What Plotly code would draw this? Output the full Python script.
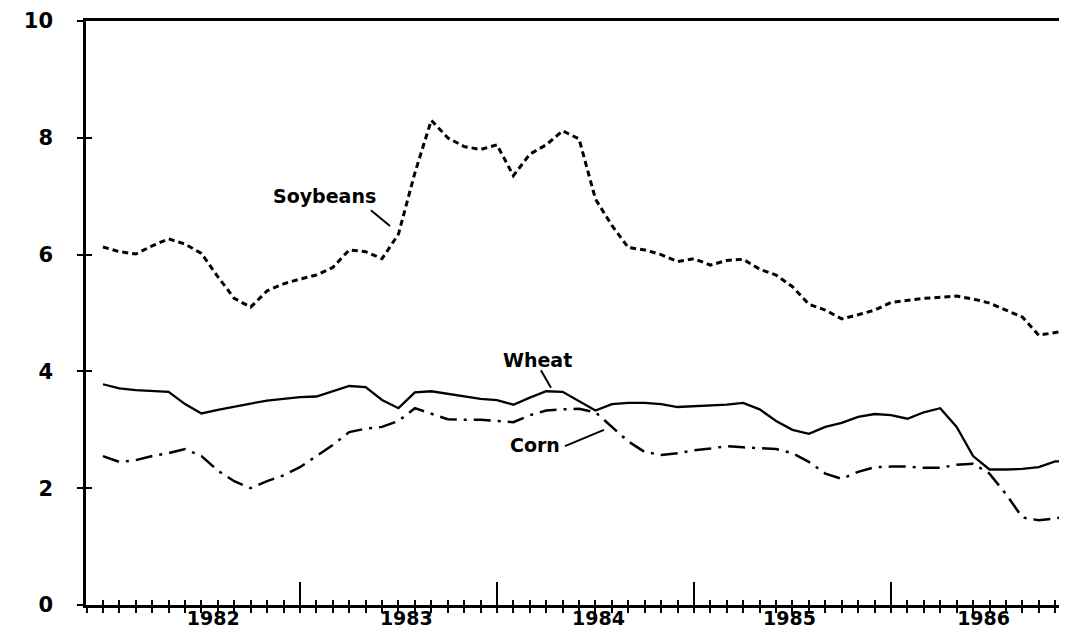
import pandas as pd
import plotly.graph_objects as go

# ---- data (monthly, Jan 1982 - Dec 1986), dollars per bushel ----
months = pd.date_range("1982-01-01", periods=60, freq="MS")

soybeans = [6.13, 6.05, 6.01, 6.15, 6.27, 6.18, 6.02, 5.62, 5.25, 5.10, 5.38, 5.50,
            5.58, 5.65, 5.78, 6.08, 6.05, 5.93, 6.35, 7.40, 8.30, 8.00, 7.85, 7.80,
            7.88, 7.35, 7.72, 7.88, 8.12, 7.98, 6.95, 6.50, 6.12, 6.08, 6.00, 5.88,
            5.93, 5.82, 5.90, 5.92, 5.75, 5.65, 5.45, 5.15, 5.05, 4.90, 4.97, 5.05,
            5.18, 5.22, 5.25, 5.27, 5.29, 5.24, 5.17, 5.05, 4.93, 4.62, 4.67, 4.71]

wheat = [3.78, 3.71, 3.68, 3.67, 3.65, 3.44, 3.28, 3.34, 3.40, 3.45, 3.50, 3.53,
         3.56, 3.57, 3.66, 3.75, 3.73, 3.51, 3.37, 3.64, 3.66, 3.62, 3.58, 3.53,
         3.51, 3.43, 3.55, 3.66, 3.65, 3.49, 3.33, 3.44, 3.46, 3.46, 3.44, 3.39,
         3.40, 3.41, 3.43, 3.46, 3.35, 3.15, 3.00, 2.93, 3.05, 3.12, 3.22, 3.27,
         3.25, 3.19, 3.30, 3.37, 3.05, 2.55, 2.32, 2.32, 2.33, 2.36, 2.46, 2.46]

corn = [2.55, 2.45, 2.48, 2.55, 2.60, 2.67, 2.55, 2.30, 2.12, 2.00, 2.12, 2.22,
        2.36, 2.55, 2.74, 2.96, 3.02, 3.05, 3.15, 3.37, 3.28, 3.18, 3.17, 3.17,
        3.15, 3.13, 3.25, 3.33, 3.35, 3.36, 3.30, 3.05, 2.80, 2.62, 2.57, 2.60,
        2.65, 2.68, 2.72, 2.70, 2.68, 2.67, 2.60, 2.45, 2.25, 2.16, 2.28, 2.36,
        2.37, 2.37, 2.35, 2.35, 2.40, 2.42, 2.25, 1.90, 1.50, 1.45, 1.48, 1.54]

year_labels = ["1982", "1983", "1984", "1985", "1986"]
year_label_pos = [1982.56, 1983.54, 1984.515, 1985.485, 1986.47]
year_bounds = [1983, 1984, 1985, 1986]
y_ticks = [0, 2, 4, 6, 8, 10]

x = list(months.year + (months.month - 1) / 12.0)

XR = [1981.914, 1986.934]
YR = [0, 10]
FONT = "DejaVu Sans"

fig = go.Figure()
fig.add_trace(go.Scatter(x=x, y=soybeans, mode="lines", name="Soybeans",
                         line=dict(color="black", width=3, dash="6px,4px")))
fig.add_trace(go.Scatter(x=x, y=wheat, mode="lines", name="Wheat",
                         line=dict(color="black", width=2.3)))
fig.add_trace(go.Scatter(x=x, y=corn, mode="lines", name="Corn",
                         line=dict(color="black", width=2.5, dash="17px,7px,3px,7px")))

# empty helper traces so the overlay axes are drawn
for xa, ya in [("x2", "y"), ("x3", "y"), ("x4", "y"), ("x", "y2")]:
    fig.add_trace(go.Scatter(x=[], y=[], xaxis=xa, yaxis=ya, showlegend=False,
                             hoverinfo="skip"))

ytickfont = dict(family=FONT, size=21, color="black", weight="bold")
xtickfont = dict(family=FONT, size=19, color="black", weight="bold")

fig.update_layout(
    width=1067, height=631,
    margin=dict(l=78, r=0, t=13, b=34),
    paper_bgcolor="white", plot_bgcolor="white",
    showlegend=False,
    font=dict(family=FONT, color="black"),
    xaxis=dict(range=XR, showgrid=False, zeroline=False, showline=True,
               linecolor="black", linewidth=2.5, mirror=True,
               tickmode="linear", tick0=1982, dtick=1 / 12,
               ticks="outside", ticklen=5, tickwidth=2, tickcolor="black",
               showticklabels=False, automargin=False),
    xaxis2=dict(range=XR, overlaying="x", anchor="y", side="bottom",
                showgrid=False, zeroline=False, showline=False,
                tickmode="linear", tick0=1982, dtick=1 / 12,
                ticks="inside", ticklen=5, tickwidth=2, tickcolor="black",
                showticklabels=False, automargin=False),
    xaxis3=dict(range=XR, overlaying="x", anchor="y", side="bottom",
                showgrid=False, zeroline=False, showline=False,
                tickmode="array", tickvals=year_bounds,
                ticks="inside", ticklen=23, tickwidth=2, tickcolor="black",
                showticklabels=False, automargin=False),
    xaxis4=dict(range=XR, overlaying="x", anchor="y", side="bottom",
                showgrid=False, zeroline=False, showline=False,
                tickmode="array", tickvals=year_label_pos, ticktext=year_labels,
                ticks="", tickfont=xtickfont, ticklabelstandoff=0,
                automargin=False),
    yaxis=dict(range=YR, showgrid=False, zeroline=False, showline=True,
               linecolor="black", linewidth=2.5,
               tickmode="array", tickvals=y_ticks,
               ticks="outside", ticklen=6, tickwidth=2, tickcolor="black",
               tickfont=ytickfont, ticklabelstandoff=20, automargin=False),
    yaxis2=dict(range=YR, overlaying="y", anchor="x", side="left",
                showgrid=False, zeroline=False, showline=False,
                tickmode="array", tickvals=y_ticks,
                ticks="inside", ticklen=6, tickwidth=2, tickcolor="black",
                showticklabels=False, automargin=False),
)

labfont = dict(family=FONT, size=19, color="black", weight="bold")
labels = [("Soybeans", 1983.127, 7.0), ("Wheat", 1984.208, 4.2), ("Corn", 1984.193, 2.74)]
for txt, lx, ly in labels:
    fig.add_annotation(x=lx, y=ly, text=txt, showarrow=False, font=labfont,
                       xref="x", yref="y")

pointers = [(1983.360, 6.76, 1983.457, 6.49),
            (1984.223, 4.02, 1984.274, 3.72),
            (1984.345, 2.72, 1984.543, 3.00)]
for x0, y0, x1, y1 in pointers:
    fig.add_shape(type="line", x0=x0, y0=y0, x1=x1, y1=y1, xref="x", yref="y",
                  line=dict(color="black", width=2))

fig.write_html("out.html")
